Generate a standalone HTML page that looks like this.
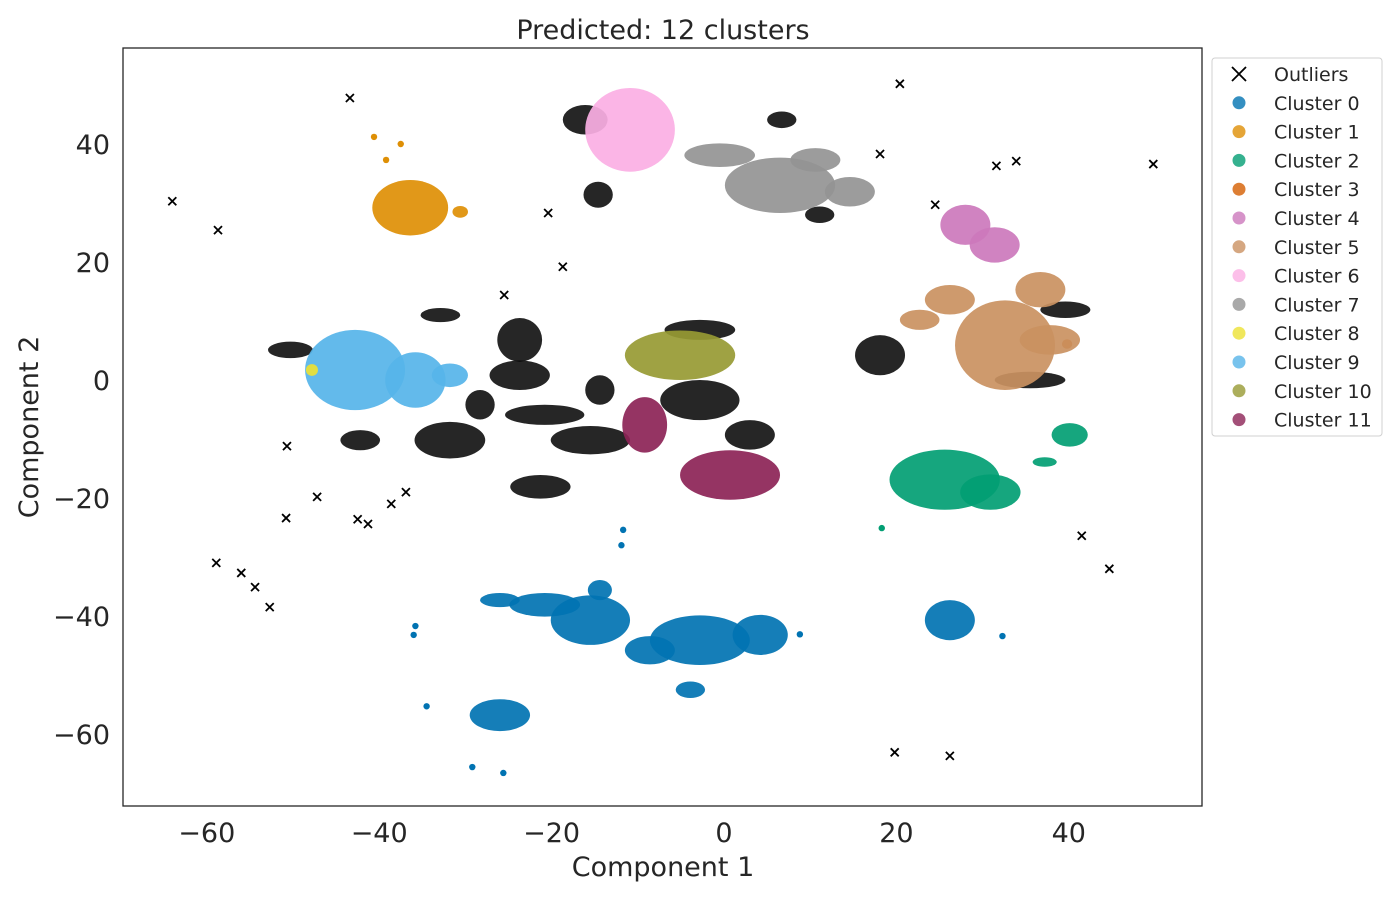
<!DOCTYPE html>
<html><head><meta charset="utf-8"><style>
body{margin:0;background:#fff;}
svg{font-family:"DejaVu Sans","Liberation Sans",sans-serif;}
</style></head><body>
<svg id="chart" width="1400" height="900" viewBox="0 0 1400 900" xmlns="http://www.w3.org/2000/svg">
<rect width="1400" height="900" fill="#fff"/>
<text x="663" y="39" font-size="27" text-anchor="middle" fill="#262626">Predicted: 12 clusters</text>
<g id="marks"></g>
<rect x="123" y="48" width="1079" height="758" fill="none" stroke="#262626" stroke-width="1.3"/>
<g id="ticks"></g>
<text x="663" y="876" font-size="27" text-anchor="middle" fill="#262626">Component 1</text>
<text transform="translate(38,427) rotate(-90)" font-size="27" text-anchor="middle" fill="#262626">Component 2</text>
<g id="legend"></g>
</svg>
<script>
const colors = ["#0173b2","#de8f05","#029e73","#d55e00","#cc78bc","#ca9161","#fbafe4","#949494","#ece133","#56b4e9","#979a33","#8c2356"];
const legendLabels = ["Outliers","Cluster 0","Cluster 1","Cluster 2","Cluster 3","Cluster 4","Cluster 5","Cluster 6","Cluster 7","Cluster 8","Cluster 9","Cluster 10","Cluster 11"];
const xTicks = [-60,-40,-20,0,20,40];
const yTicks = [40,20,0,-20,-40,-60];
// cluster blobs: [cluster, x, y, rx, ry] in data units (cluster -1 = outliers)
const blobCluster = [0,0,0,0,0,0,0,0,0,0, 1,1, 2,2,2,2, 3, 4,4, 5,5,5,5,5, 6, 7,7,7,7, 9,9,9, 8, 10, 11,11,
 -1,-1,-1,-1,-1,-1,-1,-1,-1,-1,-1,-1,-1,-1,-1,-1,-1,-1,-1,-1,-1];
const blobX = [-2.8,-15.5,-20.8,-26,4.2,-8.6,-3.9,-26,26.2,-14.4, -36.4,-30.6, 25.6,30.9,40.1,37.2, 39.8, 28,31.4, 32.6,26.2,36.7,22.7,37.8, -10.9, 6.5,-0.5,10.6,14.6, -42.8,-35.8,-31.8, -47.8, -5.1, -9.2,0.7,
 -50.3,-32.9,-31.8,-42.2,-23.7,-23.7,-20.8,-15.5,-21.3,-14.4,-2.8,-2.8,3,18.1,-14.6,-16.1,6.7,11.1,39.6,35.5,-28.3];
const blobY = [-44.1,-40.7,-38.1,-37.3,-43.2,-45.8,-52.5,-56.8,-40.7,-35.6, 29.2,28.5, -16.9,-19,-9.3,-13.9, 6.1, 26.3,22.9, 5.9,13.6,15.3,10.2,6.8, 42.4, 33,38.1,37.3,31.9, 1.7,0,0.8, 1.7, 4.2, -7.6,-16.1,
 5.1,11,-10.2,-10.2,6.8,0.8,-5.9,-10.2,-18.1,-1.7,8.5,-3.4,-9.3,4.2,31.4,44.1,44.1,28,11.9,0,-4.2];
const blobRx = [5.8,4.6,4.1,2.3,3.2,2.9,1.7,3.5,2.9,1.4, 4.4,0.9, 6.4,3.5,2.1,1.4, 0.6, 2.9,2.9, 5.8,2.9,2.9,2.3,3.5, 5.2, 6.4,4.1,2.9,2.9, 5.8,3.5,2.1, 0.7, 6.4, 2.6,5.8,
 2.6,2.3,4.1,2.3,2.6,3.5,4.6,4.6,3.5,1.7,4.1,4.6,2.9,2.9,1.7,2.6,1.7,1.7,2.9,4.1,1.7];
const blobRy = [4.2,4.2,2.0,1.2,3.4,2.4,1.4,2.7,3.4,1.7, 4.7,1, 5.1,3,2,0.8, 0.8, 3.4,3, 7.6,2.5,3,1.7,2.5, 7.1, 4.7,2,2,2.5, 6.8,4.7,2, 1, 4.2, 4.7,4.2,
 1.4,1.2,3.1,1.7,3.7,2.5,1.7,2.4,2,2.5,1.7,3.4,2.5,3.4,2.2,2.5,1.4,1.4,1.4,1.4,2.5];
// isolated outliers (x markers)
const outX = [-64,-58.7,-43.4,-58.9,-56,-54.4,-52.7,-50.7,-47.2,-50.8,-42.5,-41.3,-38.6,-36.9,-25.5,-18.7,-20.4,20.4,18.1,49.8,41.5,44.7,19.8,26.2,33.9,31.6,24.5];
const outY = [30.3,25.4,47.8,-31,-32.7,-35.1,-38.5,-11.2,-19.8,-23.4,-23.6,-24.4,-21,-19,14.4,19.2,28.3,50.2,38.3,36.6,-26.4,-32,-63.1,-63.7,37.1,36.3,29.7];
// isolated cluster points
const dotCluster = [1,1,1,0,0,0,0,0,0,0,2,0,0];
const dotX = [-40.6,-37.5,-39.2,-11.7,-11.9,-35.8,-36,-34.5,-29.2,-25.6,18.3,32.3,8.8];
const dotY = [41.2,40,37.3,-25.4,-28,-41.7,-43.2,-55.3,-65.6,-66.6,-25.1,-43.4,-43.1];

const NS="http://www.w3.org/2000/svg";
const X0=123,X1=1202,Y0=48,Y1=806;
const xmin=-69.72,xmax=55.45,ymin=-72.2,ymax=56.27;
const sx=v=>X0+(v-xmin)/(xmax-xmin)*(X1-X0);
const sy=v=>Y1-(v-ymin)/(ymax-ymin)*(Y1-Y0);
const kx=(X1-X0)/(xmax-xmin), ky=(Y1-Y0)/(ymax-ymin);
function mk(tag,attrs,parent){const e=document.createElementNS(NS,tag);for(const k in attrs)e.setAttribute(k,attrs[k]);parent.appendChild(e);return e;}
const marks=document.getElementById('marks');
const order=[...blobCluster.keys()].sort((a,b)=>(blobCluster[a]===-1?0:1)-(blobCluster[b]===-1?0:1));
order.forEach(i=>{
  const c=blobCluster[i];
  const e=mk('ellipse',{cx:sx(blobX[i]),cy:sy(blobY[i]),rx:blobRx[i]*kx,ry:blobRy[i]*ky,fill:c<0?'#000':colors[c],'fill-opacity':c<0?0.85:0.92},marks);
  
  
});
dotX.forEach((v,i)=>{
  const e=mk('circle',{cx:sx(v),cy:sy(dotY[i]),r:3.2,fill:colors[dotCluster[i]]},marks);
  
  
});
outX.forEach((v,i)=>{
  const x=sx(v),y=sy(outY[i]);
  const e=mk('path',{d:`M${x-4},${y-4}L${x+4},${y+4}M${x-4},${y+4}L${x+4},${y-4}`,stroke:'#000','stroke-width':1.8},marks);
  
  
});
const ticks=document.getElementById('ticks');
xTicks.forEach(t=>{
  const e=mk('text',{x:sx(t),y:842,'font-size':27,'text-anchor':'middle',fill:'#262626'},ticks);
  e.textContent=(t<0?'\u2212'+(-t):t);
  
  
});
yTicks.forEach(t=>{
  const e=mk('text',{x:110,y:sy(t)+10,'font-size':27,'text-anchor':'end',fill:'#262626'},ticks);
  e.textContent=(t<0?'\u2212'+(-t):t);
  
  
});
const lg=document.getElementById('legend');
const box=mk('rect',{x:1212,y:58,width:170,height:378,rx:3,fill:'#fff',stroke:'#d0d0d0'},lg);


legendLabels.forEach((l,i)=>{
  const y=74+i*28.8;
  const g=mk('g',{},lg);
  
  
  if(i===0) mk('path',{d:`M1232,${y-7}L1246,${y+7}M1232,${y+7}L1246,${y-7}`,stroke:'#000','stroke-width':1.8},g);
  else mk('circle',{cx:1239,cy:y,r:6.5,fill:colors[i-1],'fill-opacity':0.8},g);
  const t=mk('text',{x:1274,y:y+7,'font-size':19,fill:'#262626'},g);
  t.textContent=l;
});
</script>
</body></html>
